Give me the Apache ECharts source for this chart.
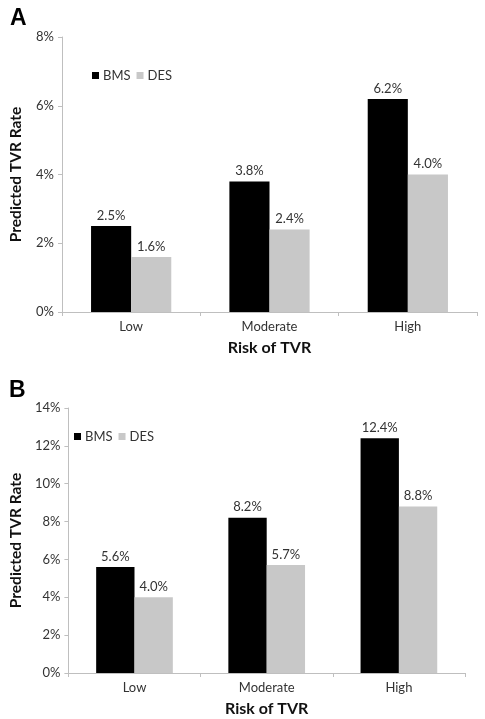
<!DOCTYPE html>
<html>
<head>
<meta charset="utf-8">
<script src="https://cdn.jsdelivr.net/npm/echarts@6/dist/echarts.min.js"></script>
<style>html,body{margin:0;padding:0;background:#fff;}#c{width:485px;height:719px;}</style>
</head>
<body>
<div id="c"></div>
<script>
const categories = ['Low', 'Moderate', 'High'];
const bmsA = [2.5, 3.8, 6.2];
const desA = [1.6, 2.4, 4.0];
const bmsB = [5.6, 8.2, 12.4];
const desB = [4.0, 5.7, 8.8];
const yMaxA = 8, yStepA = 2;
const yMaxB = 14, yStepB = 2;

const FONT = 'Lato';
const TXT = '#333';
const chart = echarts.init(document.getElementById('c'), null, {renderer: 'canvas'});

function xAxis(gridIndex) {
  return {
    type: 'category', gridIndex, data: categories,
    axisLine: {lineStyle: {color: '#bfbfbf', width: 1}},
    axisTick: {show: true, length: 4, lineStyle: {color: '#bfbfbf'}},
    axisLabel: {color: TXT, fontFamily: FONT, fontSize: 13, margin: 8},
    name: 'Risk of TVR', nameLocation: 'middle', nameGap: 28,
    nameTextStyle: {color: '#111', fontFamily: FONT, fontSize: 16, fontWeight: 'bold'}
  };
}
function yAxis(gridIndex, max, step) {
  return {
    type: 'value', gridIndex, min: 0, max, interval: step,
    axisLine: {show: true, lineStyle: {color: '#bfbfbf', width: 1}},
    axisTick: {show: true, length: 4, lineStyle: {color: '#bfbfbf'}},
    splitLine: {show: false},
    axisLabel: {color: TXT, fontFamily: FONT, fontSize: 13, margin: 8, formatter: v => v + '%'},
    name: 'Predicted TVR Rate', nameLocation: 'middle', nameGap: 38,
    nameTextStyle: {color: '#111', fontFamily: FONT, fontSize: 15.5, fontWeight: 'bold'}
  };
}
function bar(name, data, color, idx) {
  return {
    type: 'bar', name, data, xAxisIndex: idx, yAxisIndex: idx,
    barGap: '0%', barCategoryGap: '42%',
    itemStyle: {color},
    label: {show: true, position: 'top', distance: 4, color: TXT, fontFamily: FONT, fontSize: 13,
      formatter: p => p.value.toFixed(1) + '%'}
  };
}
function legend(left, top) {
  return {
    left, top, data: ['BMS', 'DES'], itemWidth: 7, itemHeight: 7, itemGap: 6,
    icon: 'rect', selectedMode: false,
    textStyle: {color: TXT, fontFamily: FONT, fontSize: 13, padding: [0, 0, 0, -1]}
  };
}

chart.setOption({
  animation: false,
  textStyle: {fontFamily: FONT},
  grid: [
    {left: 60, top: 37, width: 417, height: 275},
    {left: 60, top: 408, width: 405, height: 265}
  ],
  xAxis: [xAxis(0), xAxis(1)],
  yAxis: [yAxis(0, yMaxA, yStepA), yAxis(1, yMaxB, yStepB)],
  legend: [legend(87, 64), legend(69, 425)],
  series: [
    bar('BMS', bmsA, '#000000', 0),
    bar('DES', desA, '#c8c8c8', 0),
    bar('BMS', bmsB, '#000000', 1),
    bar('DES', desB, '#c8c8c8', 1)
  ],
  graphic: [
    {type: 'text', left: 10, top: 7, style: {text: 'A', fontFamily: 'Liberation Sans', fontWeight: 'bold', fontSize: 23, fill: '#000'}},
    {type: 'text', left: 9, top: 379, style: {text: 'B', fontFamily: 'Liberation Sans', fontWeight: 'bold', fontSize: 23, fill: '#000'}}
  ]
});
</script>
</body>
</html>
